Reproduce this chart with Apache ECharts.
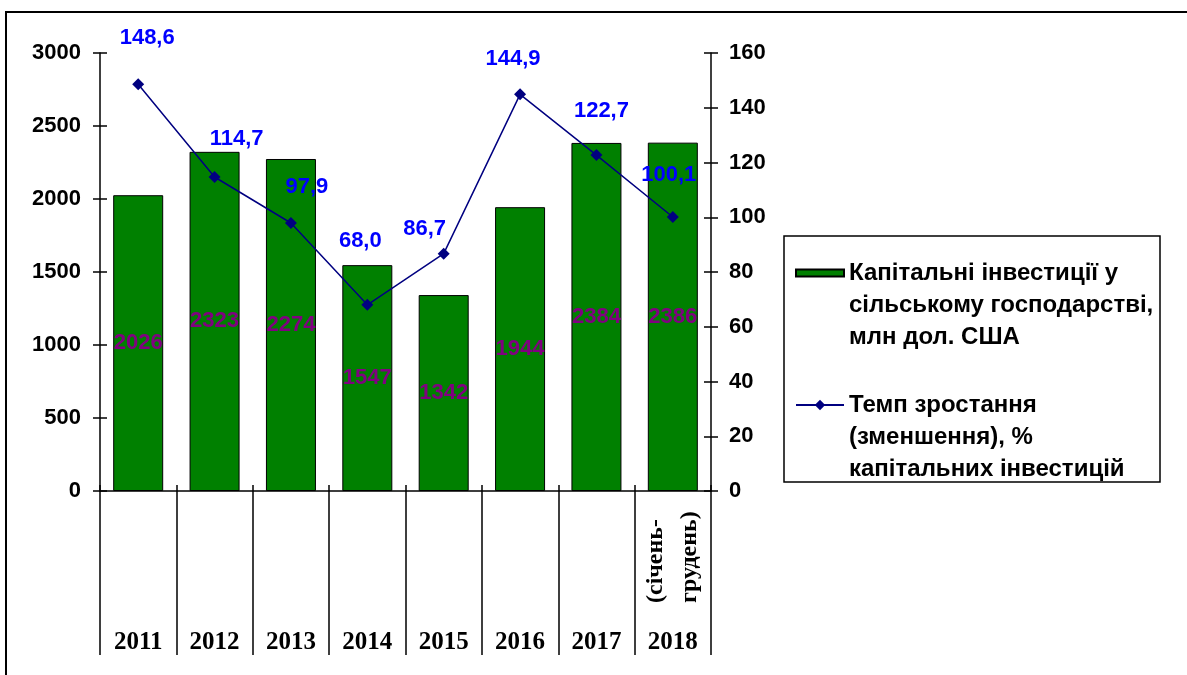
<!DOCTYPE html>
<html lang="uk">
<head>
<meta charset="UTF-8">
<title>Капітальні інвестиції у сільському господарстві</title>
<script src="https://cdn.jsdelivr.net/npm/echarts@6/dist/echarts.min.js"></script>
<style>
  html, body { margin: 0; padding: 0; background: #fff; }
  #main { width: 1187px; height: 675px; }
</style>
</head>
<body>
<div id="main"></div>
<script>
  // роки
  var years = ['2011', '2012', '2013', '2014', '2015', '2016', '2017', '2018'];
  // капітальні інвестиції, млн дол. США
  var investValues = [2026, 2323, 2274, 1547, 1342, 1944, 2384, 2386];
  // темп зростання (зменшення), %
  var growthValues = [148.6, 114.7, 97.9, 68.0, 86.7, 144.9, 122.7, 100.1];
  // шкали осей
  var leftScale = { min: 0, max: 3000, interval: 500 };
  var rightScale = { min: 0, max: 160, interval: 20 };

  var barName = 'Капітальні інвестиції у\nсільському господарстві,\nмлн дол. США';
  var lineName = 'Темп зростання\n(зменшення), %\nкапітальних інвестицій';
  var lastYearNote = '(січень-\nгрудень)';

  // зсув підписів лінії (як розставлено вручну у вихідному малюнку)
  var lineLabelShift = [[9, -46], [22, -38], [16, -36], [-7, -64], [-19, -25], [-7, -35], [5, -44], [-4, -42]];

  var sans = '"Liberation Sans", Arial, sans-serif';
  var serif = '"Liberation Serif", "Times New Roman", serif';
  var black = '#000';

  function comma(v) { return v.toFixed(1).replace('.', ','); }

  function valueAxis(scale, pos, margin) {
    return {
      type: 'value', position: pos,
      min: scale.min, max: scale.max, interval: scale.interval,
      axisLine: { show: true, lineStyle: { color: black, width: 1.5 } },
      axisTick: { show: true, length: 7, lineStyle: { color: black, width: 1.5 } },
      axisLabel: { margin: margin, color: black, fontFamily: sans, fontWeight: 'bold', fontSize: 22,
        formatter: function (v) { return String(v); } },
      splitLine: { show: false }
    };
  }
  // копія осі лише для внутрішніх рисок (риски перетинають вісь)
  function innerTicks(scale, pos) {
    return {
      type: 'value', position: pos,
      min: scale.min, max: scale.max, interval: scale.interval,
      axisLine: { show: false },
      axisTick: { show: true, inside: true, length: 7, lineStyle: { color: black, width: 1.5 } },
      axisLabel: { show: false },
      splitLine: { show: false }
    };
  }

  // легенда: значок на рівні першого рядка тексту (два порожні рядки зверху)
  function legendText(name) { return '\n\n' + name; }
  var legendFont = { color: black, fontFamily: sans, fontWeight: 'bold', fontSize: 24, lineHeight: 32 };

  var chart = echarts.init(document.getElementById('main'));
  var option = {
    animation: false,
    backgroundColor: '#fff',
    grid: { left: 100, right: 476, top: 53, bottom: 184, containLabel: false, outerBoundsMode: 'none' },
    graphic: [
      { type: 'rect', silent: true, shape: { x: 6, y: 12, width: 1200, height: 700 },
        style: { fill: 'none', stroke: black, lineWidth: 2 } },
      { type: 'rect', silent: true, shape: { x: 784, y: 236, width: 376, height: 246 },
        style: { fill: 'none', stroke: black, lineWidth: 1.5 } }
    ],
    legend: [
      {
        data: [barName], orient: 'vertical', left: 795, top: 193, padding: 0,
        itemWidth: 48, itemHeight: 7, icon: 'rect', formatter: legendText,
        textStyle: legendFont
      },
      {
        data: [lineName], orient: 'vertical', left: 795, top: 325, padding: 0,
        itemWidth: 48, itemHeight: 13, formatter: legendText,
        textStyle: legendFont
      }
    ],
    xAxis: [
      {
        type: 'category', data: years, position: 'bottom',
        axisLine: { show: true, lineStyle: { color: black, width: 1.5 } },
        axisTick: { show: true, alignWithLabel: false, interval: 0, length: 164, lineStyle: { color: black, width: 1.5 } },
        axisLabel: { interval: 0, margin: 139, color: black, fontFamily: serif, fontWeight: 'bold', fontSize: 25 }
      },
      {
        type: 'category', data: years, position: 'bottom',
        axisLine: { show: false },
        axisTick: { show: true, alignWithLabel: false, interval: 0, inside: true, length: 6, lineStyle: { color: black, width: 1.5 } },
        axisLabel: {
          interval: 0, rotate: 90, align: 'left', verticalAlign: 'middle', margin: 112,
          lineHeight: 34, color: black, fontFamily: serif, fontWeight: 'bold', fontSize: 24,
          formatter: function (v) { return v === years[years.length - 1] ? lastYearNote : ''; }
        }
      }
    ],
    yAxis: [
      valueAxis(leftScale, 'left', 19),
      valueAxis(rightScale, 'right', 18),
      innerTicks(leftScale, 'left'),
      innerTicks(rightScale, 'right')
    ],
    series: [
      {
        name: barName, type: 'bar', xAxisIndex: 0, yAxisIndex: 0,
        data: investValues, barWidth: 50,
        itemStyle: { color: '#008000', borderColor: black, borderWidth: 1 },
        label: { show: true, position: 'inside', color: '#800080', fontFamily: sans, fontWeight: 'bold', fontSize: 22 }
      },
      {
        name: lineName, type: 'line', xAxisIndex: 0, yAxisIndex: 1,
        data: growthValues.map(function (v, i) {
          return { value: v, label: { offset: lineLabelShift[i] } };
        }),
        symbol: 'diamond', symbolSize: 12,
        lineStyle: { color: '#000080', width: 1.5 },
        itemStyle: { color: '#000080' },
        label: {
          show: true, position: 'inside', color: '#0000ff', fontFamily: sans, fontWeight: 'bold', fontSize: 22,
          formatter: function (p) { return comma(p.value); }
        },
        z: 5
      }
    ]
  };
  chart.setOption(option);
</script>
</body>
</html>
